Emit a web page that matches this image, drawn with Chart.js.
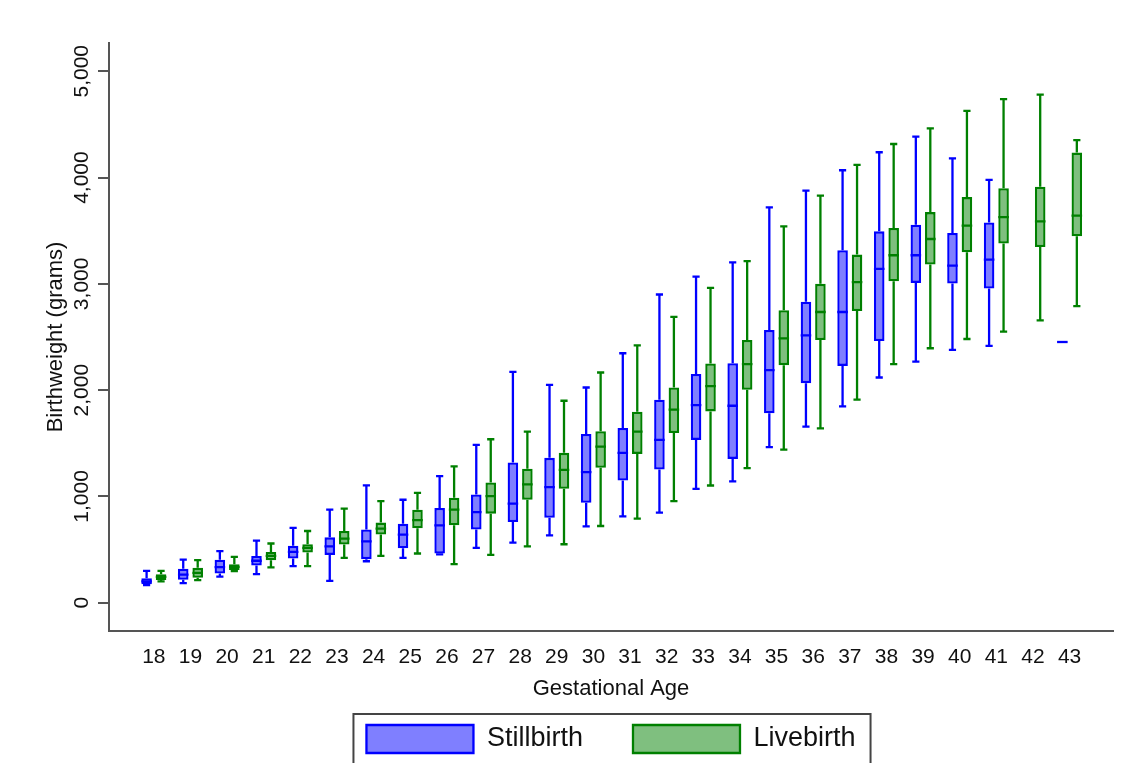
<!DOCTYPE html>
<html>
<head>
<meta charset="utf-8">
<title>Birthweight by gestational age</title>
<script src="https://cdn.jsdelivr.net/npm/chart.js@4.4.1/dist/chart.umd.min.js"></script>
<style>
  html, body { margin: 0; padding: 0; background: #fff; }
  canvas { display: block; }
</style>
</head>
<body>
<canvas id="myChart" width="1127" height="763"></canvas>
<script>
// gestational age (weeks) and y axis ticks
var ages = [18, 19, 20, 21, 22, 23, 24, 25, 26, 27, 28, 29, 30, 31, 32, 33, 34, 35, 36, 37, 38, 39, 40, 41, 42, 43];
var yTicks = [0, 1000, 2000, 3000, 4000, 5000];

// stillbirth birthweight (grams): whisker ends, quartiles, median
var stillMin = [165, 185, 245, 270, 345, 205, 390, 422, 455, 516, 566, 634, 719, 813, 847, 1072, 1141, 1463, 1656, 1847, 2119, 2269, 2378, 2416, null, 2453];
var stillQ1 = [175, 215, 275, 350, 415, 450, 410, 512, 463, 688, 759, 800, 941, 1150, 1253, 1532, 1353, 1782, 2066, 2228, 2463, 3009, 3004, 2957, null, 2453];
var stillMed = [200, 265, 335, 395, 478, 530, 578, 641, 728, 853, 932, 1088, 1228, 1410, 1532, 1860, 1853, 2188, 2516, 2735, 3141, 3269, 3172, 3228, null, 2453];
var stillQ3 = [230, 320, 405, 440, 535, 615, 690, 742, 891, 1019, 1319, 1363, 1588, 1644, 1910, 2153, 2254, 2566, 2831, 3316, 3494, 3557, 3478, 3578, null, 2453];
var stillMax = [300, 405, 485, 585, 705, 875, 1105, 969, 1191, 1485, 2172, 2049, 2025, 2347, 2900, 3068, 3203, 3719, 3878, 4069, 4238, 4385, 4181, 3978, null, 2453];

// livebirth birthweight (grams)
var liveMin = [200, 213, 297, 332, 344, 422, 441, 463, 363, 450, 531, 550, 722, 791, 956, 1103, 1266, 1441, 1641, 1910, 2244, 2394, 2481, 2550, 2657, 2791];
var liveQ1 = [213, 235, 307, 400, 472, 547, 641, 700, 728, 838, 969, 1072, 1269, 1400, 1597, 1800, 2003, 2235, 2472, 2744, 3025, 3182, 3297, 3379, 3347, 3447];
var liveMed = [244, 281, 338, 441, 516, 604, 697, 778, 876, 1003, 1113, 1250, 1469, 1610, 1816, 2038, 2244, 2488, 2735, 3016, 3269, 3422, 3547, 3628, 3588, 3641];
var liveQ3 = [269, 328, 363, 478, 550, 675, 754, 875, 988, 1132, 1260, 1410, 1613, 1797, 2025, 2250, 2472, 2751, 3000, 3275, 3525, 3675, 3816, 3900, 3913, 4235];
var liveMax = [300, 400, 431, 557, 675, 885, 956, 1033, 1282, 1538, 1610, 1900, 2166, 2422, 2690, 2963, 3213, 3541, 3831, 4119, 4316, 4462, 4628, 4738, 4781, 4353];

var axisColor = "#555555";
var textColor = "#111111";
Chart.defaults.font.family = "'Liberation Sans', Arial, sans-serif";

// build the floating bar points (box = q1..q3), keep whisker values alongside
function boxPoints(mins, q1s, meds, q3s, maxs) {
  var points = [];
  for (var i = 0; i < ages.length; i++) {
    if (meds[i] == null) continue;
    points.push({ x: ages[i], y: [q1s[i], q3s[i]], min: mins[i], med: meds[i], max: maxs[i] });
  }
  return points;
}

// whiskers, caps and median lines drawn on top of the bars
var whiskerPlugin = {
  id: "whiskers",
  afterDatasetsDraw: function (chart) {
    var ctx = chart.ctx;
    var yScale = chart.scales.y;
    chart.data.datasets.forEach(function (ds, d) {
      var meta = chart.getDatasetMeta(d);
      ctx.save();
      ctx.strokeStyle = ds.borderColor;
      ctx.lineWidth = 2.3;
      meta.data.forEach(function (bar, i) {
        var p = ds.data[i];
        var half = bar.width / 2;
        var cap = bar.width * 0.34;
        var yMin = yScale.getPixelForValue(p.min);
        var yQ1 = yScale.getPixelForValue(p.y[0]);
        var yMed = yScale.getPixelForValue(p.med);
        var yQ3 = yScale.getPixelForValue(p.y[1]);
        var yMax = yScale.getPixelForValue(p.max);
        ctx.beginPath();
        if (yMax < yQ3) {
          ctx.moveTo(bar.x, yQ3);
          ctx.lineTo(bar.x, yMax);
          ctx.moveTo(bar.x - cap, yMax);
          ctx.lineTo(bar.x + cap, yMax);
        }
        if (yMin > yQ1) {
          ctx.moveTo(bar.x, yQ1);
          ctx.lineTo(bar.x, yMin);
          ctx.moveTo(bar.x - cap, yMin);
          ctx.lineTo(bar.x + cap, yMin);
        }
        ctx.moveTo(bar.x - half, yMed);
        ctx.lineTo(bar.x + half, yMed);
        ctx.stroke();
      });
      ctx.restore();
    });
  }
};

// frame around the legend items (runs off the bottom like the original)
var legendFramePlugin = {
  id: "legendFrame",
  afterDraw: function (chart) {
    var boxes = chart.legend.legendHitBoxes;
    if (!boxes || !boxes.length) return;
    var first = boxes[0];
    var last = boxes[boxes.length - 1];
    var left = first.left - 13;
    var right = last.left + last.width + 15;
    var top = first.top - 11;
    var ctx = chart.ctx;
    ctx.save();
    ctx.strokeStyle = "#444444";
    ctx.lineWidth = 2;
    ctx.strokeRect(left, top, right - left, chart.height - top + 20);
    ctx.restore();
  }
};

var ctx = document.getElementById("myChart").getContext("2d");
var chart = new Chart(ctx, {
  type: "bar",
  data: {
    datasets: [
      {
        label: "Stillbirth",
        data: boxPoints(stillMin, stillQ1, stillMed, stillQ3, stillMax),
        backgroundColor: "rgba(0, 0, 255, 0.5)",
        borderColor: "rgb(0, 0, 255)",
        borderWidth: 2.3,
        borderSkipped: false,
      },
      {
        label: "Livebirth",
        data: boxPoints(liveMin, liveQ1, liveMed, liveQ3, liveMax),
        backgroundColor: "rgba(0, 128, 0, 0.5)",
        borderColor: "rgb(0, 128, 0)",
        borderWidth: 2.3,
        borderSkipped: false,
      },
    ],
  },
  options: {
    responsive: false,
    animation: false,
    categoryPercentage: 0.79,
    barPercentage: 0.73,
    layout: { padding: { top: 43, right: 14, left: 0, bottom: 0 } },
    plugins: {
      tooltip: { enabled: false },
      legend: {
        position: "bottom",
        fullSize: false,
        labels: {
          boxWidth: 107,
          boxHeight: 28,
          padding: 50,
          color: textColor,
          font: { size: 27 },
        },
      },
    },
    scales: {
      x: {
        type: "linear",
        min: 16.776,
        max: 44.185,
        offset: false,
        grid: { display: false, drawTicks: false, offset: false },
        border: { display: true, color: axisColor, width: 2 },
        afterBuildTicks: function (axis) {
          axis.ticks = ages.map(function (a) { return { value: a }; });
        },
        afterFit: function (axis) { axis.height = 44; },
        ticks: {
          autoSkip: false,
          maxRotation: 0,
          padding: 14,
          color: textColor,
          font: { size: 21 },
          callback: function (value) { return String(value); },
        },
        title: {
          display: true,
          text: "Gestational Age",
          color: textColor,
          font: { size: 22 },
          padding: { top: 0, bottom: -27 },
        },
      },
      y: {
        min: -266,
        max: 5266,
        grid: {
          display: true,
          drawOnChartArea: false,
          drawTicks: true,
          tickLength: 11,
          color: axisColor,
          lineWidth: 2,
        },
        border: { display: true, color: axisColor, width: 2 },
        afterBuildTicks: function (axis) {
          axis.ticks = yTicks.map(function (v) { return { value: v }; });
        },
        afterFit: function (axis) { axis.width = 109; },
        ticks: {
          minRotation: 90,
          maxRotation: 90,
          crossAlign: "center",
          padding: -10,
          color: textColor,
          font: { size: 21 },
          callback: function (value) { return value.toLocaleString("en-US"); },
        },
        title: {
          display: true,
          text: "Birthweight (grams)",
          color: textColor,
          font: { size: 22 },
          padding: { top: 43, bottom: 0 },
        },
      },
    },
  },
  plugins: [whiskerPlugin, legendFramePlugin],
});
</script>
</body>
</html>
